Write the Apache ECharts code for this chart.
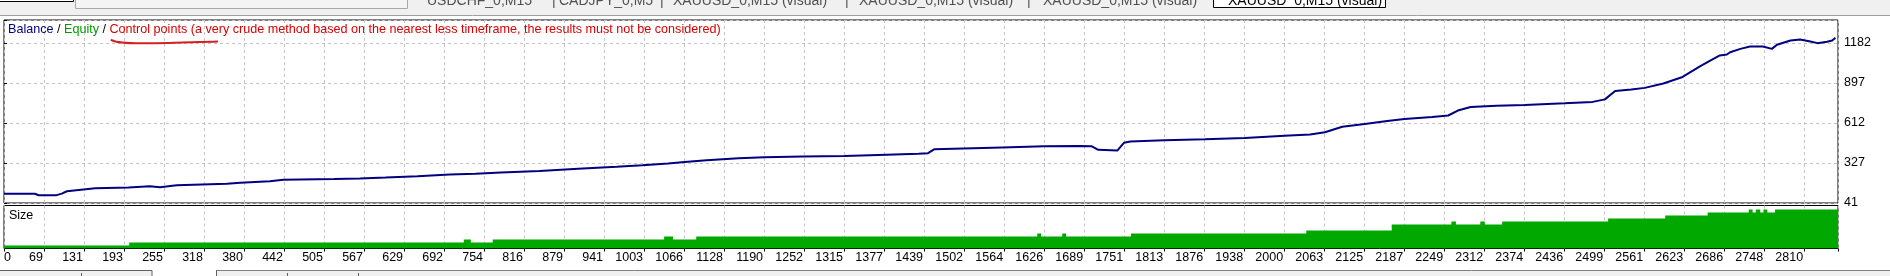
<!DOCTYPE html>
<html>
<head>
<meta charset="utf-8">
<script src="https://cdn.jsdelivr.net/npm/echarts@6/dist/echarts.min.js"></script>
<style>
html,body{margin:0;padding:0;background:#fff;}
#c{width:1890px;height:276px;}
</style>
</head>
<body>
<div id="c"></div>
<script>
// ---- data ----
const xTickLabels = ['0','69','131','193','255','318','380','442','505','567','629','692','754','816','879','941','1003','1066','1128','1190','1252','1315','1377','1439','1502','1564','1626','1689','1751','1813','1876','1938','2000','2063','2125','2187','2249','2312','2374','2436','2499','2561','2623','2686','2748','2810'];
const yTickLabels = ['41','327','612','897','1182'];

const balanceTrades = [6,54,60,88,96,104,148,200,233,249,275,353,374,420,441,467,520,560,600,650,700,740,780,840,900,960,1000,1040,1066,1100,1150,1190,1250,1315,1380,1430,1445,1455,1500,1560,1626,1680,1700,1710,1740,1750,1760,1813,1876,1938,2000,2040,2063,2090,2125,2160,2187,2230,2255,2270,2290,2330,2374,2436,2480,2499,2515,2540,2561,2590,2620,2647,2663,2678,2689,2694,2710,2725,2745,2759,2767,2788,2803,2819,2830,2845,2853,2858];
const balanceValues = [107,107,96,97,108,125,146,152,161,154,168,178,185,196,206,209,212,216,222,232,244,250,258,270,286,300,310,322,333,345,360,368,372,376,385,392,396,425,430,437,445,447,445,420,416,470,480,488,495,505,520,530,545,585,605,625,640,655,665,700,725,735,740,752,762,780,840,850,862,893,940,1015,1057,1093,1100,1116,1140,1157,1157,1140,1169,1200,1207,1193,1181,1191,1200,1219];

const sizeTrades = [6,201,722,733,767,1034,1048,1084,1615,1621,1654,1660,1761,2034,2167,2260,2267,2305,2312,2339,2504,2593,2659,2723,2729,2734,2741,2746,2752,2764,2862];
const sizeLots   = [0.01,0.02,0.03,0.02,0.03,0.04,0.03,0.04,0.05,0.04,0.05,0.04,0.05,0.06,0.08,0.09,0.08,0.09,0.08,0.09,0.10,0.11,0.12,0.13,0.12,0.13,0.12,0.13,0.12,0.13,0.13];

// ---- axis geometry (scale settings) ----
const X_BASE = 6, X_STEP = 62.295, X_SPAN = 2856;
const Y_BASE = 41, Y_STEP = 285.25, Y_SPAN = 1305;
const SIZE_MAX = 0.143;

const FONT = '"Liberation Sans", Arial, sans-serif';
const gridLine = {show:true, lineStyle:{color:'#c4c4c4', width:1, type:[3,3]}};

function xLabel(v){
  const k = Math.round(v / X_STEP);
  if (Math.abs(v / X_STEP - k) > 0.01) return '';
  return xTickLabels[k] !== undefined ? xTickLabels[k] : '';
}
function yLabel(v){
  const k = Math.round(v / Y_STEP);
  if (Math.abs(v / Y_STEP - k) > 0.01) return '';
  return yTickLabels[k] !== undefined ? yTickLabels[k] : '';
}

const chart = echarts.init(document.getElementById('c'), null, {renderer:'canvas'});

const xCommon = {type:'value', min:0, max:X_SPAN, interval:X_STEP, axisLine:{show:false}, splitLine:gridLine};

const tabFont = '14px ' + FONT;
const tabs = [
  {t:'USDCHF_0,M15', x:427}, {t:'|', x:552}, {t:'CADJPY_0,M5', x:559}, {t:'|', x:660},
  {t:'XAUUSD_0,M15 (visual)', x:673}, {t:'|', x:845}, {t:'XAUUSD_0,M15 (visual)', x:859}, {t:'|', x:1027},
  {t:'XAUUSD_0,M15 (visual)', x:1043}
];
const TAB_Y = 1;

const graphic = [
  // top tab strip
  {type:'rect', shape:{x:0,y:0,width:1890,height:15}, style:{fill:'#f0f0f0'}, silent:true},
  {type:'line', shape:{x1:0,y1:15.5,x2:1890,y2:15.5}, style:{stroke:'#a0a0a0', lineWidth:1}},
  {type:'rect', shape:{x:-2,y:-5,width:75.5,height:6.5}, style:{fill:'#fff', stroke:'#000', lineWidth:1}},
  {type:'rect', shape:{x:75.5,y:-5,width:332,height:13.5}, style:{fill:'#f4f4f4', stroke:'#a8a8a8', lineWidth:1}},
  {type:'rect', shape:{x:1213.5,y:-5,width:172,height:12.5}, style:{fill:'#fff', stroke:'#000', lineWidth:1}},
  {type:'text', style:{text:'XAUUSD_0,M15 (visual)', x:1228, y:TAB_Y, font:tabFont, fill:'#000', verticalAlign:'middle', textVerticalAlign:'middle'}}
].concat(tabs.map(o => ({type:'text', style:{text:o.t, x:o.x, y:TAB_Y, font:tabFont, fill:'#505050', verticalAlign:'middle', textVerticalAlign:'middle'}})))
.concat([
  // legend text
  {type:'text', z:10, style:{
    x:8, y:30, verticalAlign:'middle', textVerticalAlign:'middle',
    text:'{b|Balance} {s|/} {e|Equity} {s|/} {c|Control points (a very crude method based on the nearest less timeframe, the results must not be considered)}',
    font:'12.6px ' + FONT,
    rich:{
      b:{fill:'#000080', color:'#000080', fontSize:12.6, fontFamily:FONT},
      s:{fill:'#000', color:'#000', fontSize:12.6, fontFamily:FONT},
      e:{fill:'#009a00', color:'#009a00', fontSize:12.6, fontFamily:FONT},
      c:{fill:'#d80000', color:'#d80000', fontSize:12.6, fontFamily:FONT}
    }
  }},
  // hand-drawn red underline
  {type:'bezierCurve', z:10, shape:{x1:111,y1:39.5,cpx1:116,cpy1:45.5,cpx2:160,cpy2:43,x2:218,y2:41.5}, style:{stroke:'#d62020', lineWidth:2, fill:null}},
  // size panel caption
  {type:'text', z:10, style:{text:'Size', x:9, y:216, font:'12.5px ' + FONT, fill:'#000', verticalAlign:'middle', textVerticalAlign:'middle'}},
  // bottom strip
  {type:'rect', shape:{x:0,y:270,width:1890,height:10}, style:{fill:'#f0f0f0'}},
  {type:'rect', shape:{x:152,y:270,width:64,height:10}, style:{fill:'#fff'}},
  {type:'line', shape:{x1:216,y1:270.5,x2:1890,y2:270.5}, style:{stroke:'#808080', lineWidth:1}},
  {type:'rect', shape:{x:-1,y:270.5,width:153,height:10}, style:{fill:'none', stroke:'#606060', lineWidth:1}},
  {type:'line', shape:{x1:81.5,y1:273,x2:81.5,y2:276}, style:{stroke:'#606060', lineWidth:1}},
  {type:'line', shape:{x1:216.5,y1:270.5,x2:216.5,y2:276}, style:{stroke:'#606060', lineWidth:1}},
  {type:'line', shape:{x1:287.5,y1:273,x2:287.5,y2:276}, style:{stroke:'#606060', lineWidth:1}},
  {type:'line', shape:{x1:358.5,y1:273,x2:358.5,y2:276}, style:{stroke:'#606060', lineWidth:1}}
]);

const option = {
  animation:false,
  backgroundColor:'#fff',
  textStyle:{fontFamily:FONT},
  grid:[
    {left:4, right:52, top:20, height:183, show:true, borderColor:'#000', borderWidth:1, backgroundColor:'#fff'},
    {left:4, right:52, top:205.5, height:43, show:true, borderColor:'#000', borderWidth:1, backgroundColor:'#fff'}
  ],
  xAxis:[
    Object.assign({}, xCommon, {gridIndex:0, axisLabel:{show:false}, axisTick:{show:false}}),
    Object.assign({}, xCommon, {gridIndex:1,
      axisTick:{show:true, length:3, lineStyle:{color:'#000'}},
      axisLabel:{show:true, formatter:xLabel, align:'right', alignMinLabel:'left', margin:3, color:'#000', fontSize:12.5, fontFamily:FONT, padding:[0,1,0,0]}})
  ],
  yAxis:[
    {type:'value', gridIndex:0, position:'right', min:0, max:Y_SPAN, interval:Y_STEP,
     axisLine:{show:false}, axisTick:{show:true, length:3, lineStyle:{color:'#000'}},
     axisLabel:{formatter:yLabel, margin:6, color:'#000', fontSize:12.5, fontFamily:FONT},
     splitLine:gridLine},
    {type:'value', gridIndex:1, min:0, max:SIZE_MAX, show:false, splitLine:{show:false}}
  ],
  series:[
    {type:'line', xAxisIndex:1, yAxisIndex:1, step:'end', symbol:'none', silent:true,
     data:sizeTrades.map((t,i)=>[t - X_BASE, sizeLots[i]]),
     lineStyle:{width:0, color:'#00a800'}, itemStyle:{color:'#00a800'},
     areaStyle:{color:'#00a800', opacity:1}},
    {type:'line', xAxisIndex:0, yAxisIndex:0, symbol:'none', silent:true,
     data:balanceTrades.map((t,i)=>[t - X_BASE, balanceValues[i] - Y_BASE]),
     lineStyle:{color:'#000080', width:2}, itemStyle:{color:'#000080'}}
  ],
  graphic:graphic
};
chart.setOption(option);
</script>
</body>
</html>
